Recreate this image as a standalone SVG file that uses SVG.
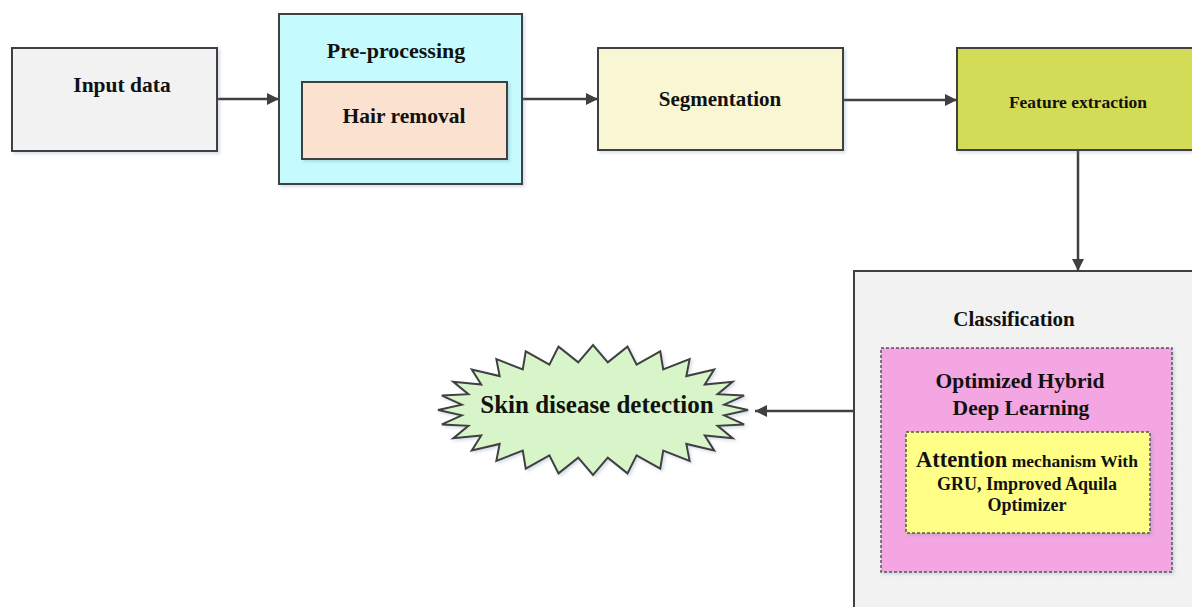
<svg xmlns="http://www.w3.org/2000/svg" width="1192" height="607" viewBox="0 0 1192 607">
<defs>
<filter id="sh" x="-10%" y="-10%" width="130%" height="130%">
<feDropShadow dx="2" dy="2" stdDeviation="1.5" flood-color="#6080a0" flood-opacity="0.25"/>
</filter>
<marker id="arr" viewBox="0 0 12 12" refX="12" refY="6" markerWidth="12" markerHeight="12" markerUnits="userSpaceOnUse" orient="auto">
<path d="M0,0 L12,6 L0,12 z" fill="#404040"/>
</marker>
<style>
text{font-family:"Liberation Serif","Times New Roman",serif;font-weight:bold;fill:#111;text-anchor:middle}
.box{stroke:#404040;stroke-width:2;filter:url(#sh)}
.dash{stroke:#555;stroke-width:1.5;stroke-dasharray:3 2;filter:url(#sh)}
.conn{stroke:#404040;stroke-width:2.5;fill:none;marker-end:url(#arr)}
</style>
</defs>
<rect width="1192" height="607" fill="#ffffff"/>
<g id="connectors">
<line class="conn" x1="217" y1="99" x2="279" y2="99"/>
<line class="conn" x1="522" y1="99" x2="598" y2="99"/>
<line class="conn" x1="843" y1="100" x2="957" y2="100"/>
<line class="conn" x1="1078" y1="150" x2="1078" y2="271"/>
<line class="conn" x1="854" y1="411" x2="755" y2="411"/>
</g>
<g id="input">
<rect class="box" x="12" y="48" width="205" height="103" fill="#f2f2f2" stroke-width="2.5"/>
<text x="122" y="92" font-size="21.5">Input data</text>
</g>
<g id="preprocessing">
<rect class="box" x="279" y="14" width="243" height="170" fill="#c6fbfd" stroke="#555" stroke-width="1.5"/>
<text x="396" y="58" font-size="22">Pre-processing</text>
<g id="hair">
<rect class="box" x="302" y="82" width="205" height="77" fill="#fbe1cf"/>
<text x="404" y="123" font-size="21.5">Hair removal</text>
</g>
</g>
<g id="segmentation">
<rect class="box" x="598" y="48" width="245" height="102" fill="#f9f6d4"/>
<text x="720" y="106" font-size="21">Segmentation</text>
</g>
<g id="feature">
<rect class="box" x="957" y="48" width="260" height="102" fill="#d3dc56"/>
<text x="1078" y="108" font-size="17.5">Feature extraction</text>
</g>
<g id="classification">
<rect class="box" x="854" y="271" width="360" height="360" fill="#f2f2f2"/>
<text x="1014" y="326" font-size="21">Classification</text>
<g id="hybrid">
<rect class="dash" x="881" y="348" width="291" height="224" fill="#f3a6e1"/>
<text x="1020" y="388" font-size="21.5">Optimized Hybrid</text>
<text x="1021" y="415" font-size="21.5">Deep Learning</text>
<g id="attention">
<rect class="dash" x="906" y="432" width="244" height="101" fill="#ffff88"/>
<text x="1027" y="467"><tspan font-size="22.5">Attention</tspan><tspan font-size="17.5"> mechanism With</tspan></text>
<text x="1027" y="490" font-size="18">GRU, Improved Aquila</text>
<text x="1027" y="511" font-size="18">Optimizer</text>
</g>
</g>
</g>
<g id="detection">
<polygon class="box" fill="#d8f5c9" stroke-width="2.5" points="748,410 724.17,404.63 744.11,395.54 717.59,394.15 732.65,381.8 704.77,384.46 714.18,369.47 686.34,376.06 689.64,359.18 663.23,369.36 660.25,351.44 636.6,364.69 627.49,346.63 607.78,362.3 593,345 578.22,362.3 558.51,346.63 549.4,364.69 525.75,351.44 522.77,369.36 496.36,359.18 499.66,376.06 471.82,369.47 481.23,384.46 453.35,381.8 468.41,394.15 441.89,395.54 461.83,404.63 438,410 461.83,415.37 441.89,424.46 468.41,425.85 453.35,438.2 481.23,435.54 471.82,450.53 499.66,443.94 496.36,460.82 522.77,450.64 525.75,468.56 549.4,455.31 558.51,473.37 578.22,457.7 593,475 607.78,457.7 627.49,473.37 636.6,455.31 660.25,468.56 663.23,450.64 689.64,460.82 686.34,443.94 714.18,450.53 704.77,435.54 732.65,438.2 717.59,425.85 744.11,424.46 724.17,415.37"/>
<text x="597" y="413" font-size="25">Skin disease detection</text>
</g>
</svg>
